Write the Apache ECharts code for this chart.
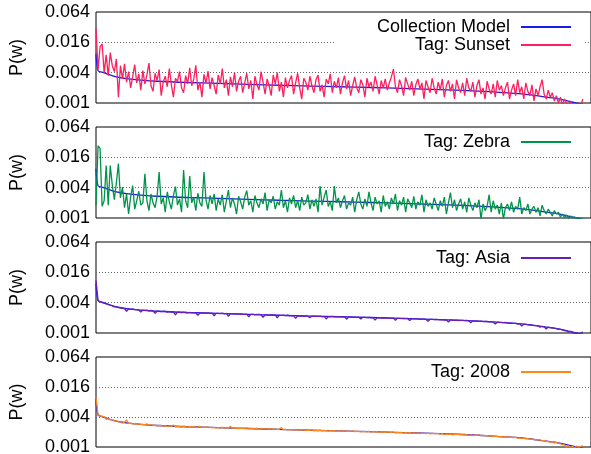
<!DOCTYPE html>
<html>
<head>
<meta charset="utf-8">
<script src="https://cdn.jsdelivr.net/npm/echarts@6/dist/echarts.min.js"></script>
<style>
html,body{margin:0;padding:0;background:#fff;}
#chart{width:591px;height:454px;}
</style>
</head>
<body>
<div id="chart"></div>
<script>
// y tick values and labels
const yTicks = [0.001, 0.004, 0.016, 0.064];
const yTickLabels = ['0.001', '0.004', '0.016', '0.064'];

// Collection model (values in thousandths) at given word ranks
const modelRank = [0, 1, 3, 6, 10, 15, 22, 30, 45, 60, 75, 90, 105, 120, 135, 150, 165, 180, 195, 202, 210, 217, 225, 231, 235, 239];
const modelMilli = [9.5, 4.4, 4.1, 3.7, 3.3, 3.05, 2.85, 2.7, 2.55, 2.45, 2.35, 2.25, 2.17, 2.1, 2.03, 1.95, 1.87, 1.78, 1.66, 1.59, 1.5, 1.38, 1.25, 1.12, 1.02, 0.95];

// Tag series (values in thousandths), one value per word rank 0..239
const sunsetMilli = [
 30, 4.6, 13, 15, 4.0, 9, 3.5, 10, 5.5, 4.2, 7.5, 1.3,
 5.5, 3.0, 6.0, 2.6, 4.2, 2.0, 3.3, 5.8, 2.5, 3.8, 1.8, 4.4,
 2.4, 3.6, 6.2, 2.2, 1.7, 3.9, 2.8, 4.6, 1.4, 2.6, 3.4, 2.1,
 4.8, 2.3, 1.3, 3.1, 2.7, 4.2, 2.0, 1.6, 3.5, 2.4, 5.0, 2.2,
 3.0, 5.6, 1.8, 2.6, 1.3, 3.7, 2.5, 4.3, 1.9, 3.2, 2.2, 1.5,
 3.6, 2.4, 4.8, 2.0, 2.9, 1.4, 3.3, 2.1, 4.0, 1.7, 2.7, 3.4,
 1.6, 2.5, 3.9, 1.9, 2.8, 1.2, 3.4, 2.3, 1.8, 4.2, 2.6, 1.5,
 3.0, 2.2, 1.4, 3.6, 2.4, 4.0, 1.7, 2.6, 1.3, 3.2, 2.0, 2.8,
 3.5, 1.5, 2.5, 3.9, 2.0, 1.2, 3.1, 2.6, 1.8, 3.4, 2.2, 1.6,
 2.9, 3.6, 1.7, 2.3, 1.3, 3.0, 2.4, 3.8, 1.6, 2.7, 2.0, 3.2,
 1.5, 2.5, 3.5, 1.9, 2.8, 1.4, 2.2, 3.3, 2.0, 1.6, 2.9, 2.3,
 1.3, 3.1, 2.1, 2.6, 1.7, 3.4, 2.3, 1.5, 2.8, 2.0, 3.0, 1.8,
 2.5, 3.3, 4.7, 2.1, 1.6, 2.9, 2.2, 1.4, 3.2, 2.4, 1.8, 2.7,
 1.4, 2.3, 3.0, 1.9, 2.5, 1.2, 2.8, 2.1, 1.6, 3.1, 2.0, 1.5,
 2.6, 1.8, 3.0, 1.3, 2.2, 2.8, 1.7, 2.4, 1.2, 2.9, 2.0, 1.6,
 2.5, 1.4, 3.1, 2.0, 1.7, 2.6, 1.3, 2.2, 2.9, 1.5, 2.0, 1.2,
 2.7, 1.9, 1.5, 2.4, 1.3, 2.8, 1.8, 2.2, 1.4, 2.0, 2.6, 1.2,
 1.8, 2.4, 1.4, 2.9, 1.6, 2.1, 1.2, 2.5, 1.7, 1.4, 2.3, 1.1,
 1.9, 1.4, 2.1, 2.9, 1.5, 1.2, 1.8, 1.3, 1.6, 1.1, 1.4, 1.0,
 1.3, 0.9, 1.2, 1.0, 0.85, 1.1, 0.9, 0.95, 0.8, 1.0, 0.9, 1.2
];
const zebraMilli = [
 1.8, 27, 24, 1.7, 2.2, 11, 1.8, 11, 4.5, 2.3, 5.0, 12,
 2.5, 4.1, 1.6, 3.0, 1.2, 2.6, 4.4, 1.5, 2.2, 3.4, 1.8, 2.0,
 7.5, 2.2, 1.4, 3.0, 2.0, 1.6, 2.7, 8.2, 1.9, 2.5, 1.3, 3.3,
 2.1, 1.5, 2.8, 4.2, 1.8, 2.4, 1.3, 9.0, 2.2, 1.6, 6.8, 2.0,
 2.6, 1.4, 3.1, 2.0, 1.7, 8.2, 2.3, 1.5, 2.8, 1.9, 3.0, 1.4,
 2.4, 1.8, 2.9, 1.3, 2.2, 3.6, 1.6, 2.5, 1.9, 1.2, 2.7, 2.1,
 1.5, 2.6, 3.5, 1.8, 2.2, 1.3, 2.8, 2.0, 1.6, 2.4, 1.9, 3.2,
 1.4, 2.3, 2.0, 2.7, 1.5, 2.1, 1.8, 3.6, 1.6, 2.2, 1.3, 2.5,
 1.9, 2.8, 1.6, 2.2, 1.4, 2.6, 1.8, 2.0, 2.9, 1.5, 2.3, 1.7,
 2.4, 1.3, 4.3, 1.8, 2.6, 3.6, 1.7, 2.1, 1.4, 4.3, 2.0, 2.5,
 1.6, 2.2, 2.8, 1.5, 2.0, 1.8, 2.6, 1.3, 2.3, 3.3, 1.9, 1.5,
 2.4, 1.7, 3.3, 2.0, 1.4, 2.6, 1.9, 2.2, 1.3, 2.8, 1.7, 2.1,
 1.5, 2.5, 1.9, 3.0, 1.4, 2.2, 1.8, 2.6, 1.3, 2.4, 2.0, 1.6,
 2.7, 1.5, 2.1, 1.8, 2.9, 1.3, 2.3, 1.7, 2.0, 1.5, 2.5, 1.9,
 1.4, 2.2, 1.7, 2.6, 1.2, 2.0, 3.2, 1.6, 2.3, 1.4, 1.9, 2.4,
 1.5, 2.1, 1.3, 2.5, 1.8, 1.4, 2.0, 1.6, 2.3, 0.95, 1.9, 1.4,
 1.7, 2.9, 1.3, 2.2, 1.5, 1.8, 1.2, 2.0, 0.95, 1.6, 1.9, 1.4,
 2.1, 1.3, 1.7, 1.5, 2.6, 1.2, 1.6, 1.4, 1.9, 1.2, 1.5, 1.7,
 1.3, 1.6, 1.1, 1.8, 1.4, 1.2, 1.5, 1.3, 1.1, 1.4, 1.2, 1.3,
 1.05, 1.2, 1.0, 1.15, 0.95, 1.1, 1.0, 1.05, 0.97, 1.02, 0.95, 1.0
];
const asiaMilli = [
 11, 4.4, 4.2, 4.0, 3.9, 3.8, 3.7, 3.55, 3.5, 3.3, 3.35, 3.2,
 3.15, 3.1, 3.05, 2.7, 3.0, 2.95, 3.0, 2.9, 2.9, 2.85, 2.6, 2.85,
 2.8, 2.85, 2.75, 2.8, 2.75, 2.45, 2.7, 2.72, 2.65, 2.7, 2.68, 2.6,
 2.65, 2.6, 2.62, 2.3, 2.6, 2.58, 2.55, 2.6, 2.55, 2.52, 2.57, 2.5,
 2.55, 2.5, 2.25, 2.5, 2.48, 2.52, 2.47, 2.5, 2.45, 2.48, 2.2, 2.46,
 2.45, 2.42, 2.47, 2.4, 2.44, 2.15, 2.42, 2.4, 2.38, 2.42, 2.37, 2.4,
 2.37, 2.35, 2.38, 2.1, 2.34, 2.36, 2.3, 2.33, 2.35, 2.3, 2.05, 2.3,
 2.3, 2.27, 2.3, 2.25, 2.28, 2.0, 2.26, 2.24, 2.27, 2.22, 2.25, 2.2,
 2.22, 2.18, 1.95, 2.2, 2.17, 2.2, 2.15, 2.18, 2.16, 2.0, 2.17, 2.15,
 2.15, 2.13, 2.16, 2.1, 2.14, 1.9, 2.12, 2.1, 2.13, 2.08, 2.11, 2.1,
 2.1, 2.08, 2.1, 1.88, 2.07, 2.08, 2.05, 2.07, 2.04, 2.06, 1.9, 2.05,
 2.04, 2.02, 2.05, 2.0, 2.02, 1.8, 2.0, 2.02, 1.98, 2.0, 1.97, 1.99,
 1.98, 1.96, 1.98, 1.78, 1.95, 1.96, 1.93, 1.95, 1.92, 1.94, 1.76, 1.92,
 1.91, 1.9, 1.91, 1.87, 1.89, 1.88, 1.86, 1.7, 1.87, 1.86, 1.85, 1.86,
 1.85, 1.83, 1.85, 1.8, 1.82, 1.65, 1.81, 1.8, 1.78, 1.8, 1.77, 1.78,
 1.78, 1.76, 1.77, 1.74, 1.6, 1.74, 1.72, 1.73, 1.7, 1.72, 1.68, 1.7,
 1.69, 1.67, 1.68, 1.65, 1.5, 1.64, 1.63, 1.62, 1.6, 1.62, 1.58, 1.56,
 1.57, 1.55, 1.56, 1.5, 1.53, 1.38, 1.5, 1.48, 1.46, 1.44, 1.43, 1.4,
 1.4, 1.38, 1.3, 1.36, 1.33, 1.2, 1.31, 1.28, 1.26, 1.24, 1.22, 1.18,
 1.18, 1.15, 1.12, 1.1, 1.05, 1.08, 1.02, 0.98, 1.01, 0.96, 1.0, 1.05
];
const y2008Milli = [
 10, 4.4, 4.3, 4.0, 4.1, 3.6, 3.7, 3.5, 3.55, 3.3, 3.4, 3.2,
 3.2, 3.0, 3.15, 3.5, 2.95, 3.0, 2.9, 2.95, 2.85, 2.9, 2.8, 2.85,
 2.8, 2.9, 2.75, 2.8, 2.7, 2.75, 2.65, 2.7, 2.72, 2.62, 2.68, 2.6,
 2.65, 2.6, 2.75, 2.55, 2.6, 2.58, 2.5, 2.62, 2.55, 2.5, 2.56, 2.52,
 2.55, 2.5, 2.48, 2.6, 2.45, 2.5, 2.47, 2.52, 2.44, 2.48, 2.45, 2.42,
 2.45, 2.4, 2.5, 2.38, 2.44, 2.4, 2.6, 2.36, 2.42, 2.38, 2.35, 2.4,
 2.38, 2.35, 2.42, 2.3, 2.36, 2.33, 2.3, 2.38, 2.28, 2.34, 2.3, 2.32,
 2.3, 2.27, 2.33, 2.25, 2.3, 2.24, 2.28, 2.45, 2.22, 2.26, 2.2, 2.24,
 2.22, 2.2, 2.25, 2.15, 2.2, 2.17, 2.22, 2.14, 2.18, 2.16, 2.2, 2.12,
 2.15, 2.13, 2.18, 2.1, 2.16, 2.12, 2.08, 2.14, 2.1, 2.13, 2.07, 2.1,
 2.1, 2.08, 2.12, 2.05, 2.09, 2.06, 2.1, 2.03, 2.07, 2.05, 2.02, 2.06,
 2.04, 2.02, 2.06, 1.98, 2.03, 2.0, 2.04, 1.97, 2.01, 1.99, 1.96, 2.0,
 1.98, 1.96, 2.0, 1.93, 1.97, 1.94, 1.96, 1.9, 1.94, 1.92, 1.95, 1.9,
 1.91, 1.9, 1.93, 1.86, 1.9, 1.87, 1.85, 1.89, 1.84, 1.87, 1.85, 1.86,
 1.85, 1.82, 1.86, 1.78, 1.83, 1.8, 1.82, 1.76, 1.8, 1.78, 1.82, 1.76,
 1.78, 1.75, 1.78, 1.72, 1.76, 1.7, 1.74, 1.71, 1.75, 1.68, 1.72, 1.68,
 1.69, 1.66, 1.7, 1.62, 1.66, 1.63, 1.6, 1.64, 1.58, 1.62, 1.57, 1.58,
 1.57, 1.54, 1.58, 1.5, 1.53, 1.48, 1.5, 1.45, 1.48, 1.42, 1.46, 1.4,
 1.4, 1.37, 1.4, 1.32, 1.36, 1.28, 1.3, 1.25, 1.28, 1.2, 1.24, 1.18,
 1.16, 1.12, 1.1, 1.0, 1.06, 0.98, 1.04, 0.96, 1.05, 0.97, 1.03, 1.06
];

const tagNames = ['Tag: Sunset', 'Tag: Zebra', 'Tag: Asia', 'Tag: 2008'];
const tagData = [sunsetMilli, zebraMilli, asiaMilli, y2008Milli];
const tagColors = ['#ff1f5e', '#00934a', '#6b1cb4', '#ff8618'];
const modelName = 'Collection Model';
const modelColor = '#1a1aee';

const FONT = '"Liberation Sans", Arial, Helvetica, sans-serif';
const gridTops = [12, 127, 242, 357];
const gridHeights = [91, 91, 91, 90];
const legendCenters = [45, 142, 258, 372];

const toVal = v => v / 1000;
const modelSeriesData = modelRank.map((r, i) => [r, toVal(modelMilli[i])]);

const grids = [], xAxes = [], yAxes = [], series = [], legends = [];

for (let k = 0; k < 4; k++) {
  grids.push({left: 96, right: 0, top: gridTops[k], height: gridHeights[k],
    show: true, borderColor: '#000', borderWidth: 1, backgroundColor: 'transparent'});
  xAxes.push({type: 'value', gridIndex: k, min: 0, max: 243,
    axisLine: {show: false}, axisTick: {show: false}, axisLabel: {show: false}, splitLine: {show: false}});
  yAxes.push({type: 'log', gridIndex: k, logBase: 10, min: 0.001, max: 0.064,
    name: 'P(w)', nameLocation: 'middle', nameGap: 70, nameRotate: 90,
    nameTextStyle: {fontFamily: FONT, fontSize: 18, color: '#000'},
    axisLine: {show: false}, axisTick: {show: false}, axisLabel: {show: false}, splitLine: {show: false}});

  const markData = yTicks.map((v, j) => ({
    yAxis: v,
    label: {formatter: yTickLabels[j]},
    lineStyle: (j === 0 || j === yTicks.length - 1)
      ? {color: 'rgba(0,0,0,0)', width: 0.01, type: 'solid'}
      : {type: [1, 2], color: '#666', width: 1}
  }));

  series.push({
    name: tagNames[k], type: 'line', xAxisIndex: k, yAxisIndex: k,
    data: tagData[k].map((v, i) => [i, toVal(v)]),
    showSymbol: false, symbol: 'none',
    color: tagColors[k],
    lineStyle: {color: tagColors[k], width: 1.3},
    z: 3
  });
  series.push({
    name: modelName, type: 'line', xAxisIndex: k, yAxisIndex: k,
    data: modelSeriesData,
    showSymbol: false, symbol: 'none', smooth: 0.3,
    color: modelColor,
    lineStyle: {color: modelColor, width: 1.3},
    z: 2,
    markLine: {
      silent: true, symbol: ['none', 'none'], animation: false, precision: 6, z: 1,
      label: {show: true, position: 'start', distance: 6, fontFamily: FONT, fontSize: 18, color: '#000'},
      data: markData
    }
  });
}

const legendCommon = {
  orient: 'horizontal', align: 'right', icon: 'rect', itemWidth: 50, itemHeight: 2, padding: 0, z: 10,
  textStyle: {fontFamily: FONT, fontSize: 18, color: '#000', lineHeight: 18, padding: [0, 6, 0, 0]},
  selectedMode: false
};
legends.push(Object.assign({}, legendCommon, {data: [modelName], right: 20, top: 27 - 9}));
legends.push(Object.assign({}, legendCommon, {data: [tagNames[0]], right: 8, top: legendCenters[0] - 9,
  backgroundColor: '#fff', padding: [0, 12, 0, 79]}));
for (let k = 1; k < 4; k++) {
  legends.push(Object.assign({}, legendCommon, {data: [tagNames[k]], right: 20, top: legendCenters[k] - 9}));
}

const chart = echarts.init(document.getElementById('chart'), null, {renderer: 'canvas'});
chart.setOption({
  animation: false,
  backgroundColor: '#fff',
  textStyle: {fontFamily: FONT},
  grid: grids, xAxis: xAxes, yAxis: yAxes, legend: legends, series: series
});
</script>
</body>
</html>
